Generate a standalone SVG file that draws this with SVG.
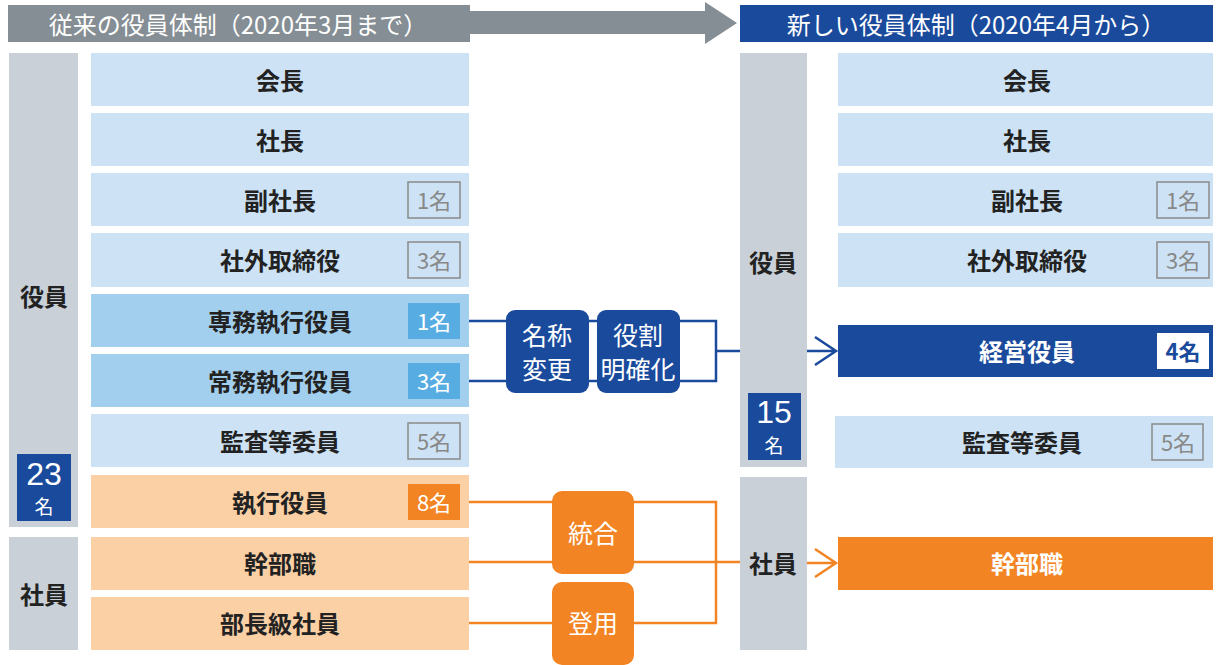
<svg xmlns="http://www.w3.org/2000/svg" width="1217" height="665" viewBox="0 0 1217 665">
<style>
text{font-family:"Noto Sans CJK JP","Noto Sans",sans-serif;dominant-baseline:central;text-anchor:middle}
.lb{fill:#cde3f5}.mb{fill:#a3cfee}.lo{fill:#fbd0a5}.gb{fill:#c9d0d7}
.row{font-size:24px;font-weight:bold;fill:#222}
.bo{fill:none;stroke:#8a8a8a;stroke-width:1.5}
.bt{font-size:22px;fill:#888}
.wt{font-size:22px;fill:#fff}
.hd{font-size:24px;fill:#fff}
.bx{font-size:25px;fill:#fff}
.gl{font-size:24px;font-weight:bold;fill:#222}
.num{font-family:"Liberation Sans",Arial,sans-serif;font-size:32px;fill:#fff}
.mei{font-size:19px;fill:#fff}
.bl{fill:none;stroke:#1a4a9c;stroke-width:2.5}
.ol{fill:none;stroke:#f28423;stroke-width:2.5}
</style>
<g id="header-old">
<rect x="8" y="5" width="462" height="37" fill="#858e94"/>
<polygon points="470,11 705,11 705,2 737,23 705,44 705,34 470,34" fill="#858e94"/>
<text class="hd" x="238" y="23">従来の役員体制（2020年3月まで）</text>
</g>
<g id="header-new">
<rect x="740" y="5" width="473" height="37" fill="#1a4a9c"/>
<text class="hd" x="976" y="23">新しい役員体制（2020年4月から）</text>
</g>
<g id="connectors">
<path class="bl" d="M469,321H716V381H469M716,351H740M807,351H836M815,337L836,351L815,365"/>
<path class="ol" d="M469,502H716V623H469M469,562H740M807,563H836M815,549L836,563L815,577"/>
</g>
<g id="old-yakuin-bar"><rect class="gb" x="9" y="53" width="69" height="474"/><text class="gl" x="44" y="295">役員</text>
<rect x="17" y="454" width="54" height="67" fill="#1a4a9c"/><text class="num" x="44" y="474">23</text><text class="mei" x="44" y="505">名</text></g>
<g id="old-shain-bar"><rect class="gb" x="9" y="537" width="69" height="113"/><text class="gl" x="44" y="593">社員</text></g>
<g id="old-kaicho"><rect class="lb" x="91" y="53" width="378" height="53"/><text class="row" x="280" y="79">会長</text></g>
<g id="old-shacho"><rect class="lb" x="91" y="113" width="378" height="53"/><text class="row" x="280" y="139">社長</text></g>
<g id="old-fukushacho"><rect class="lb" x="91" y="173" width="378" height="53"/><text class="row" x="280" y="199">副社長</text><rect class="bo" x="408" y="182" width="52" height="36"/><text class="bt" x="434" y="199">1名</text></g>
<g id="old-shagai"><rect class="lb" x="91" y="233" width="378" height="54"/><text class="row" x="280" y="259">社外取締役</text><rect class="bo" x="408" y="242" width="52" height="36"/><text class="bt" x="434" y="259">3名</text></g>
<g id="old-senmu"><rect class="mb" x="91" y="294" width="378" height="53"/><text class="row" x="280" y="320">専務執行役員</text><rect x="408" y="303" width="52" height="36" fill="#57ade2"/><text class="wt" x="434" y="320">1名</text></g>
<g id="old-jomu"><rect class="mb" x="91" y="354" width="378" height="53"/><text class="row" x="280" y="380">常務執行役員</text><rect x="408" y="363" width="52" height="36" fill="#57ade2"/><text class="wt" x="434" y="380">3名</text></g>
<g id="old-kansa"><rect class="lb" x="91" y="414" width="378" height="53"/><text class="row" x="280" y="440">監査等委員</text><rect class="bo" x="408" y="423" width="52" height="36"/><text class="bt" x="434" y="440">5名</text></g>
<g id="old-shikko"><rect class="lo" x="91" y="475" width="378" height="53"/><text class="row" x="280" y="501">執行役員</text><rect x="408" y="484" width="52" height="36" fill="#f28423"/><text class="wt" x="434" y="501">8名</text></g>
<g id="old-kanbu"><rect class="lo" x="91" y="537" width="378" height="53"/><text class="row" x="280" y="562">幹部職</text></g>
<g id="old-bucho"><rect class="lo" x="91" y="597" width="378" height="53"/><text class="row" x="280" y="622">部長級社員</text></g>
<g id="meisho-henko"><rect x="506" y="310" width="83" height="83" rx="9" fill="#1a4a9c"/><text class="bx" x="547" y="334">名称</text><text class="bx" x="547" y="368">変更</text></g>
<g id="yakuwari"><rect x="597" y="310" width="83" height="83" rx="9" fill="#1a4a9c"/><text class="bx" x="638" y="334">役割</text><text class="bx" x="638" y="368">明確化</text></g>
<g id="togo"><rect x="552" y="491" width="82" height="83" rx="10" fill="#f28423"/><text class="bx" x="593" y="532">統合</text></g>
<g id="toyo"><rect x="552" y="582" width="82" height="83" rx="10" fill="#f28423"/><text class="bx" x="593" y="622">登用</text></g>
<g id="new-yakuin-bar"><rect class="gb" x="740" y="53" width="67" height="414"/><text class="gl" x="773" y="261">役員</text>
<rect x="748" y="393" width="53" height="67" fill="#1a4a9c"/><text class="num" x="774" y="412">15</text><text class="mei" x="774" y="444">名</text></g>
<g id="new-shain-bar"><rect class="gb" x="740" y="477" width="67" height="173"/><text class="gl" x="773" y="562">社員</text></g>
<g id="new-kaicho"><rect class="lb" x="838" y="53" width="375" height="53"/><text class="row" x="1027" y="79">会長</text></g>
<g id="new-shacho"><rect class="lb" x="838" y="113" width="375" height="53"/><text class="row" x="1027" y="139">社長</text></g>
<g id="new-fukushacho"><rect class="lb" x="838" y="173" width="375" height="53"/><text class="row" x="1027" y="199">副社長</text><rect class="bo" x="1157" y="182" width="52" height="36"/><text class="bt" x="1183" y="199">1名</text></g>
<g id="new-shagai"><rect class="lb" x="838" y="233" width="375" height="54"/><text class="row" x="1027" y="259">社外取締役</text><rect class="bo" x="1157" y="242" width="52" height="36"/><text class="bt" x="1183" y="259">3名</text></g>
<g id="new-keiei"><rect x="838" y="325" width="375" height="52" fill="#1a4a9c"/><text class="row" x="1027" y="350" style="fill:#fff">経営役員</text><rect x="1157" y="333" width="52" height="36" fill="#fff"/><text x="1183" y="350" font-size="22" font-weight="bold" fill="#1a4a9c">4名</text></g>
<g id="new-kansa"><rect class="lb" x="835" y="416" width="378" height="52"/><text class="row" x="1022" y="441">監査等委員</text><rect class="bo" x="1152" y="424" width="51" height="36"/><text class="bt" x="1178" y="441">5名</text></g>
<g id="new-kanbu"><rect x="838" y="537" width="375" height="53" fill="#f28423"/><text class="row" x="1027" y="562" style="fill:#fff">幹部職</text></g>
</svg>
